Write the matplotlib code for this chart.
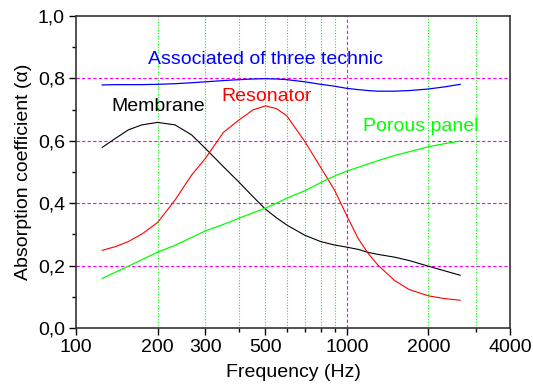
import matplotlib
matplotlib.use("Agg")
import matplotlib.pyplot as plt
from matplotlib.ticker import FixedLocator, FuncFormatter, NullFormatter, MultipleLocator

plt.rcParams['font.family'] = ['Liberation Sans', 'DejaVu Sans']

freq = [125, 140, 156, 175, 200, 232, 267, 300, 350, 400, 450, 500, 550, 600,
        700, 800, 900, 1000, 1100, 1200, 1300, 1500, 1700, 2000, 2300, 2620]
membrane = [0.579, 0.608, 0.635, 0.651, 0.659, 0.651, 0.619, 0.576, 0.517, 0.467,
            0.421, 0.381, 0.353, 0.330, 0.297, 0.277, 0.266, 0.259, 0.252, 0.242,
            0.236, 0.227, 0.216, 0.198, 0.183, 0.169]
resonator = [0.249, 0.261, 0.277, 0.301, 0.338, 0.410, 0.490, 0.543, 0.627, 0.667,
             0.699, 0.712, 0.703, 0.680, 0.597, 0.515, 0.442, 0.359, 0.287, 0.238,
             0.202, 0.152, 0.123, 0.103, 0.094, 0.089]
porous = [0.159, 0.179, 0.198, 0.219, 0.243, 0.265, 0.290, 0.311, 0.332, 0.352,
          0.369, 0.384, 0.400, 0.416, 0.440, 0.466, 0.487, 0.503, 0.515, 0.526,
          0.536, 0.553, 0.565, 0.581, 0.591, 0.599]
combined = [0.779, 0.780, 0.780, 0.780, 0.781, 0.783, 0.786, 0.789, 0.793, 0.796,
            0.798, 0.799, 0.798, 0.796, 0.789, 0.781, 0.775, 0.768, 0.764, 0.761,
            0.759, 0.759, 0.761, 0.766, 0.773, 0.781]

major_x = [100, 200, 300, 500, 1000, 2000, 4000]
minor_x = [400, 600, 700, 800, 900, 3000]
green_grid = [200, 300, 400, 500, 600, 700, 800, 900, 2000, 3000]
pink_grid_x = [1000]
pink_grid_y = [0.2, 0.4, 0.6, 0.8]

fig = plt.figure(figsize=(5.33, 3.92), dpi=100)
ax = fig.add_axes([0.1426, 0.1633, 0.8143, 0.7959])

for g in green_grid:
    ax.axvline(g, color='#00ff00', lw=0.8, ls=(0, (1, 1.5)), zorder=1)
for g in pink_grid_x:
    ax.axvline(g, color='#ff00ff', lw=0.8, ls=(0, (3, 2)), zorder=1)
for g in pink_grid_y:
    ax.axhline(g, color='#ff00ff', lw=0.8, ls=(0, (3, 2)), zorder=1)

ax.plot(freq, combined, color='#0000ff', lw=0.9, zorder=3)
ax.plot(freq, membrane, color='black', lw=0.8, zorder=3)
ax.plot(freq, resonator, color='#ff0000', lw=0.8, zorder=3)
ax.plot(freq, porous, color='#00ff00', lw=0.9, zorder=3)

ax.text(184.6, 0.859, 'Associated of three technic', color='#0000ff', fontsize=14, va='center')
ax.text(135.5, 0.709, 'Membrane', color='black', fontsize=14, va='center')
ax.text(345, 0.741, 'Resonator', color='#ff0000', fontsize=14, va='center')
ax.text(1150, 0.645, 'Porous panel', color='#00ff00', fontsize=14, va='center')

ax.set_xscale('log')
ax.set_xlim(100, 4000)
ax.set_ylim(0, 1.0)
ax.xaxis.set_major_locator(FixedLocator(major_x))
ax.xaxis.set_minor_locator(FixedLocator(minor_x))
ax.xaxis.set_major_formatter(FuncFormatter(lambda v, p: f"{int(v)}"))
ax.xaxis.set_minor_formatter(NullFormatter())
ax.yaxis.set_major_locator(MultipleLocator(0.2))
ax.yaxis.set_minor_locator(MultipleLocator(0.1))
ax.yaxis.set_major_formatter(FuncFormatter(lambda v, p: f"{v:.1f}".replace('.', ',')))

ax.tick_params(which='major', direction='out', length=5, width=1, labelsize=14,
               colors='black', pad=3)
ax.tick_params(which='minor', direction='out', length=3, width=1)
for s in ax.spines.values():
    s.set_linewidth(1.2)
    s.set_color('#333333')

ax.set_xlabel('Frequency (Hz)', fontsize=14, labelpad=6)
ax.set_ylabel('Absorption coefficient (α)', fontsize=14, labelpad=4)

fig.savefig('out.png', dpi=100)
